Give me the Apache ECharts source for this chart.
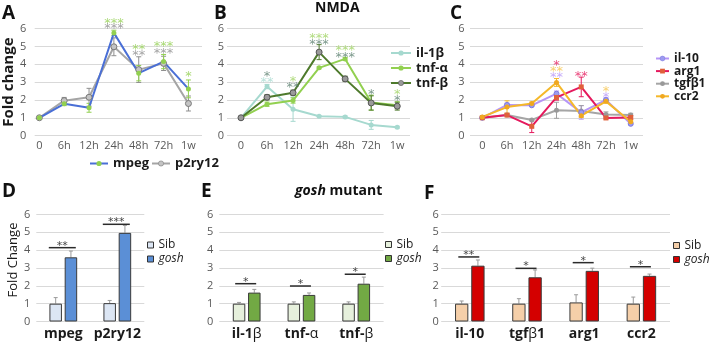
<!DOCTYPE html>
<html>
<head>
<meta charset="utf-8">
<script src="https://cdn.jsdelivr.net/npm/echarts@6/dist/echarts.min.js"></script>
<style>
  html, body { margin: 0; padding: 0; background: #fff; }
  #chart { width: 711px; height: 346px; }
</style>
</head>
<body>
<div id="chart"></div>
<script>
// ---------- time-course data (NMDA) ----------
const timePoints = ['0', '6h', '12h', '24h', '48h', '72h', '1w'];

const mpeg      = [1.0, 1.78, 1.56, 5.76, 3.5, 4.15, 2.62];
const mpegErr   = [0.03, 0.1, 0.25, 0.15, 0.43, 0.4, 0.5];
const p2ry12    = [1.0, 1.96, 2.15, 4.98, 3.7, 4.05, 1.8];
const p2ry12Err = [0.03, 0.18, 0.5, 0.5, 0.72, 0.4, 0.42];

const il1b    = [1.0, 2.75, 1.48, 1.09, 1.05, 0.6, 0.47];
const il1bErr = [0.02, 0.12, 0.68, 0.03, 0.05, 0.25, 0.05];
const tnfa    = [1.0, 1.76, 1.97, 3.8, 4.3, 1.85, 1.7];
const tnfaErr = [0.02, 0.12, 0.15, 0.05, 0.08, 0.42, 0.2];
const tnfb    = [1.0, 2.15, 2.4, 4.68, 3.18, 1.83, 1.65];
const tnfbErr = [0.02, 0.15, 0.15, 0.42, 0.15, 0.4, 0.22];

const il10     = [1.0, 1.72, 1.7, 2.35, 1.3, 2.0, 0.66];
const il10Err  = [0.03, 0.1, 0.05, 0.15, 0.38, 0.12, 0.05];
const arg1     = [1.0, 1.15, 0.52, 2.14, 2.73, 0.99, 1.02];
const arg1Err  = [0.03, 0.05, 0.35, 0.15, 0.55, 0.05, 0.1];
const tgfb1    = [1.0, 1.15, 0.88, 1.42, 1.38, 1.18, 1.15];
const tgfb1Err = [0.03, 0.05, 0.05, 0.45, 0.3, 0.15, 0.1];
const ccr2     = [1.05, 1.6, 1.8, 2.98, 1.12, 1.92, 0.78];
const ccr2Err  = [0.03, 0.35, 0.08, 0.22, 0.1, 0.1, 0.05];

// significance marks: [time index, height on the fold-change scale, label]
const mpegStars   = [[3, 6.53, '***'], [4, 5.04, '**'], [5, 5.2, '***'], [6, 3.52, '*']];
const p2ry12Stars = [[3, 6.2, '***'], [4, 4.7, '**'], [5, 4.83, '***']];
const il1bStars   = [[1, 3.21, '**']];
const tnfaStars   = [[2, 3.26, '*'], [3, 5.65, '***'], [4, 4.98, '***'], [6, 2.51, '*']];
const tnfbStars   = [[1, 3.54, '*'], [2, 2.89, '**'], [3, 5.3, '***'], [4, 4.61, '***'], [5, 2.51, '*'], [6, 2.18, '*']];
const arg1Stars   = [[3, 4.14, '*'], [4, 3.54, '**']];
const ccr2Stars   = [[3, 3.83, '**'], [5, 2.7, '*']];
const il10Stars   = [[3, 3.49, '**'], [5, 2.37, '*']];

// ---------- gosh mutant vs siblings ----------
const microgliaGenes = ['mpeg', 'p2ry12'];
const sibMicroglia      = [1.0, 1.03];
const sibMicrogliaErr   = [0.34, 0.15];
const goshMicroglia     = [3.6, 4.97];
const goshMicrogliaErr  = [0.35, 0.42];
const sigMicroglia      = [[0, 4.14, '**'], [1, 5.45, '***']];

const proInflGenes = ['il-1β', 'tnf-α', 'tnf-β'];
const sibProInfl     = [1.0, 1.0, 1.0];
const sibProInflErr  = [0.07, 0.1, 0.1];
const goshProInfl    = [1.62, 1.49, 2.12];
const goshProInflErr = [0.18, 0.11, 0.37];
const sigProInfl     = [[0, 2.12, '*'], [1, 1.99, '*'], [2, 2.65, '*']];

const antiInflGenes = ['il-10', 'tgfβ1', 'arg1', 'ccr2'];
const sibAntiInfl     = [1.0, 1.0, 1.07, 1.0];
const sibAntiInflErr  = [0.15, 0.28, 0.43, 0.37];
const goshAntiInfl    = [3.13, 2.48, 2.84, 2.56];
const goshAntiInflErr = [0.32, 0.41, 0.15, 0.1];
const sigAntiInfl     = [[0, 3.62, '**'], [1, 2.98, '*'], [2, 3.3, '*'], [3, 3.07, '*']];

// ---------- styling helpers ----------
const FONT = 'Open Sans';
const STAR_FONT = 'DejaVu Sans';
const GRID_LINE = '#d9d9d9';
const TICK = '#595959';

const greekRich = { g: { fontWeight: 'normal', fontSize: 14, fontFamily: FONT, color: '#1a1a1a' } };
const greekFmt = v => v.replace(/([α-ω])/g, '{g|$1}');

function valueY(idx, margin, extra) {
  return Object.assign({
    type: 'value', gridIndex: idx, min: 0, max: 6, interval: 1,
    axisLine: { show: false }, axisTick: { show: false },
    axisLabel: { fontFamily: FONT, fontSize: 11, color: TICK, margin: margin },
    splitLine: { lineStyle: { color: GRID_LINE, width: 1 } }
  }, extra || {});
}

function timeX(idx, min, max) {
  return {
    type: 'value', gridIndex: idx, min: min, max: max,
    axisLine: { show: false }, axisTick: { show: false }, splitLine: { show: false },
    axisLabel: {
      customValues: timePoints.map((_, i) => i),
      formatter: v => timePoints[Math.round(v)],
      fontFamily: FONT, fontSize: 11, color: TICK, margin: 5
    }
  };
}

function geneX(idx, genes) {
  return {
    type: 'category', gridIndex: idx, data: genes,
    axisLine: { show: false }, axisTick: { show: false },
    axisLabel: {
      interval: 0, hideOverlap: false,
      fontFamily: FONT, fontSize: 14, fontWeight: 'bold', color: '#1a1a1a', margin: 6,
      formatter: greekFmt, rich: greekRich
    }
  };
}

function lineSeries(name, axis, values, lineColor, itemStyle, symbol, size) {
  return {
    name: name, type: 'line', xAxisIndex: axis, yAxisIndex: axis,
    data: values.map((v, i) => [i, v]),
    symbol: symbol || 'circle', symbolSize: size || 5,
    lineStyle: { color: lineColor, width: 2 },
    itemStyle: itemStyle, z: 3
  };
}

// vertical error bars; dx shifts them onto a bar within its category
function errorSeries(axis, values, errs, color, dx, upOnly, cap) {
  return {
    type: 'custom', xAxisIndex: axis, yAxisIndex: axis, silent: true, z: upOnly ? 1 : 2,
    data: values.map((v, i) => [i, v, errs[i]]),
    renderItem: (params, api) => {
      const i = api.value(0), v = api.value(1), e = api.value(2);
      const top = api.coord([i, v + e]);
      const bot = api.coord([i, upOnly ? v : v - e]);
      const x = top[0] + dx;
      const st = { stroke: color, lineWidth: 1 };
      const kids = [
        { type: 'line', shape: { x1: x, y1: top[1], x2: x, y2: bot[1] }, style: st },
        { type: 'line', shape: { x1: x - cap, y1: top[1], x2: x + cap, y2: top[1] }, style: st }
      ];
      if (!upOnly) kids.push({ type: 'line', shape: { x1: x - cap, y1: bot[1], x2: x + cap, y2: bot[1] }, style: st });
      return { type: 'group', children: kids };
    }
  };
}

function starSeries(axis, marks, color) {
  return {
    type: 'scatter', xAxisIndex: axis, yAxisIndex: axis, silent: true, clip: false,
    symbolSize: 0, z: 5,
    data: marks,
    label: {
      show: true, position: 'inside', formatter: p => p.value[2],
      fontFamily: STAR_FONT, fontSize: 13, color: color, offset: [0, 4]
    }
  };
}

function sigSeries(axis, marks, half) {
  return {
    type: 'custom', xAxisIndex: axis, yAxisIndex: axis, silent: true, z: 4,
    data: marks,
    renderItem: (params, api) => {
      const p = api.coord([api.value(0), api.value(1)]);
      return {
        type: 'group', children: [
          { type: 'line', shape: { x1: p[0] - half - 1, y1: p[1], x2: p[0] + half - 1, y2: p[1] },
            style: { stroke: '#2b2b2b', lineWidth: 1.5 } },
          { type: 'text', x: p[0] - 1, y: p[1] - 2,
            style: { text: marks[params.dataIndex][2], fill: '#444', font: '11px "' + STAR_FONT + '"',
                     align: 'center', verticalAlign: 'middle' } }
        ]
      };
    }
  };
}

function barSeries(name, axis, values, fill, width, gap) {
  return {
    name: name, type: 'bar', xAxisIndex: axis, yAxisIndex: axis,
    data: values, barWidth: width, barGap: gap,
    itemStyle: { color: fill, borderColor: '#3a3a3a', borderWidth: 1 }, z: 2
  };
}

function barLegend(left, top, names) {
  return {
    orient: 'vertical', left: left, top: top, data: names,
    icon: 'rect', itemWidth: 6, itemHeight: 6, itemGap: 2,
    itemStyle: { borderColor: '#333', borderWidth: 1 },
    formatter: n => n.startsWith('Sib') ? 'Sib' : '{i|gosh}',
    textStyle: { fontFamily: FONT, fontSize: 12, color: '#222', lineHeight: 12,
                 rich: { i: { fontStyle: 'italic', fontFamily: FONT, fontSize: 12, color: '#222' } } },
    padding: 0
  };
}

const letter = (t, left, top) => ({
  text: t, left: left, top: top, padding: 0,
  textStyle: { fontFamily: FONT, fontSize: 19, fontWeight: 'bold', color: '#111' }
});

// bar geometry per bottom panel
const bwD = 12.5, bwE = 12.5, bwF = 13.3, gapPct = 0.22;
const offD = (bwD * (1 + gapPct)) / 2, offE = (bwE * (1 + gapPct)) / 2, offF = (bwF * (1 + gapPct)) / 2;

const option = {
  animation: false,
  backgroundColor: '#fff',
  title: [
    letter('A', 2, 4), letter('B', 214, 4), letter('C', 450, 4),
    letter('D', 2, 182), letter('E', 201, 182), letter('F', 424, 184),
    { text: 'NMDA', left: 315, top: 1, padding: 0,
      textStyle: { fontFamily: FONT, fontSize: 14, fontWeight: 'bold', color: '#111' } },
    { text: '{i|gosh} mutant', left: 295, top: 184, padding: 0,
      textStyle: { fontFamily: FONT, fontSize: 14, fontWeight: 'bold', color: '#111',
                   rich: { i: { fontFamily: FONT, fontSize: 14, fontWeight: 'bold', fontStyle: 'italic', color: '#111' } } } }
  ],
  grid: [
    { left: 33, top: 28.6, width: 169, height: 107 },
    { left: 227, top: 28.6, width: 183, height: 107 },
    { left: 470, top: 28.6, width: 173, height: 107 },
    { left: 36.3, top: 214.5, width: 108, height: 107 },
    { left: 219.3, top: 214.5, width: 164.3, height: 107 },
    { left: 441.2, top: 214.5, width: 228.8, height: 107 }
  ],
  xAxis: [
    timeX(0, -0.187, 6.546),
    timeX(1, -0.537, 6.49),
    timeX(2, -0.497, 6.497),
    geneX(3, microgliaGenes),
    geneX(4, proInflGenes),
    geneX(5, antiInflGenes)
  ],
  yAxis: [
    valueY(0, 8.5, { name: 'Fold change', nameLocation: 'middle', nameRotate: 90, nameGap: 18,
      nameTextStyle: { fontFamily: FONT, fontSize: 15, fontWeight: 'bold', color: '#1a1a1a' } }),
    valueY(1, 3),
    valueY(2, 5.5),
    valueY(3, 6, { name: 'Fold Change', nameLocation: 'middle', nameRotate: 90, nameGap: 14,
      nameTextStyle: { fontFamily: FONT, fontSize: 13, color: '#1a1a1a', padding: [0, 0, 0, 16] } }),
    valueY(4, 6),
    valueY(5, 2.5)
  ],
  legend: [
    { left: 89, top: 157, data: ['mpeg', 'p2ry12'], itemWidth: 18, itemHeight: 6.5, itemGap: 2, padding: 0,
      itemStyle: { borderWidth: 0.6 },
      textStyle: { fontFamily: FONT, fontSize: 13, fontWeight: 'bold', color: '#1a1a1a' } },
    { orient: 'vertical', left: 390, top: 46.5, data: ['il-1β', 'tnf-α', 'tnf-β'],
      itemWidth: 20, itemHeight: 6.5, itemGap: 2, padding: 0,
      itemStyle: { borderWidth: 0.6 },
      textStyle: { fontFamily: FONT, fontSize: 13, fontWeight: 'bold', color: '#1a1a1a', lineHeight: 13 } },
    { orient: 'vertical', left: 655, top: 52.5, data: ['il-10', 'arg1', 'tgfβ1', 'ccr2'],
      itemWidth: 13, itemHeight: 6, itemGap: 0.6, padding: 0,
      itemStyle: { borderWidth: 0.6 },
      textStyle: { fontFamily: FONT, fontSize: 12, fontWeight: 'bold', color: '#1a1a1a', lineHeight: 11 } },
    barLegend(147, 239, ['SibD', 'goshD']),
    barLegend(385, 238.5, ['SibE', 'goshE']),
    barLegend(673, 239.5, ['SibF', 'goshF'])
  ],
  series: [
    // A
    errorSeries(0, p2ry12, p2ry12Err, '#8f8f8f', 0, false, 2.5),
    errorSeries(0, mpeg, mpegErr, '#92d050', 0, false, 2.5),
    lineSeries('p2ry12', 0, p2ry12, '#a5a5a5', { color: '#c4c4c4', borderColor: '#7a7a7a', borderWidth: 1 }, 'circle', 6),
    lineSeries('mpeg', 0, mpeg, '#4a6fd6', { color: '#92d050' }, 'circle', 5),
    starSeries(0, mpegStars, '#92d050'),
    starSeries(0, p2ry12Stars, '#8c8c8c'),
    // B
    errorSeries(1, il1b, il1bErr, '#a6d9cf', 0, false, 2.5),
    errorSeries(1, tnfa, tnfaErr, '#92d050', 0, false, 2.5),
    errorSeries(1, tnfb, tnfbErr, '#4e7a2c', 0, false, 2.5),
    lineSeries('il-1β', 1, il1b, '#a6d9cf', { color: '#a6d9cf' }, 'circle', 5),
    lineSeries('tnf-α', 1, tnfa, '#92d050', { color: '#92d050' }, 'circle', 5),
    lineSeries('tnf-β', 1, tnfb, '#4e7a2c', { color: '#9a9a9a', borderColor: '#555', borderWidth: 1 }, 'circle', 6),
    starSeries(1, il1bStars, '#a6d9cf'),
    starSeries(1, tnfaStars, '#9ed35f'),
    starSeries(1, tnfbStars, '#5b7f6f'),
    // C
    errorSeries(2, il10, il10Err, '#b695f7', 0, false, 2.5),
    errorSeries(2, arg1, arg1Err, '#e5195d', 0, false, 2.5),
    errorSeries(2, tgfb1, tgfb1Err, '#a0a0a0', 0, false, 2.5),
    errorSeries(2, ccr2, ccr2Err, '#f5b82a', 0, false, 2.5),
    lineSeries('tgfβ1', 2, tgfb1, '#a5a5a5', { color: '#999' }, 'circle', 5),
    lineSeries('il-10', 2, il10, '#b695f7', { color: '#9d9bf0', borderColor: '#7e7ae0', borderWidth: 1 }, 'circle', 5),
    lineSeries('arg1', 2, arg1, '#e5195d', { color: '#e0603a' }, 'rect', 5),
    lineSeries('ccr2', 2, ccr2, '#f5b82a', { color: '#f0a820' }, 'circle', 5),
    starSeries(2, arg1Stars, '#e5195d'),
    starSeries(2, ccr2Stars, '#f5c34a'),
    starSeries(2, il10Stars, '#b695f7'),
    // D
    barSeries('SibD', 3, sibMicroglia, '#dce6f4', bwD, '22%'),
    barSeries('goshD', 3, goshMicroglia, '#5b8fd6', bwD, '22%'),
    errorSeries(3, sibMicroglia, sibMicrogliaErr, '#9a9a9a', -offD, true, 2),
    errorSeries(3, goshMicroglia, goshMicrogliaErr, '#9a9a9a', offD, true, 2),
    sigSeries(3, sigMicroglia, 13.5),
    // E
    barSeries('SibE', 4, sibProInfl, '#e6f0dc', bwE, '22%'),
    barSeries('goshE', 4, goshProInfl, '#72a944', bwE, '22%'),
    errorSeries(4, sibProInfl, sibProInflErr, '#9a9a9a', -offE, true, 2),
    errorSeries(4, goshProInfl, goshProInflErr, '#9a9a9a', offE, true, 2),
    sigSeries(4, sigProInfl, 10.5),
    // F
    barSeries('SibF', 5, sibAntiInfl, '#f5cfa9', bwF, '22%'),
    barSeries('goshF', 5, goshAntiInfl, '#d40000', bwF, '22%'),
    errorSeries(5, sibAntiInfl, sibAntiInflErr, '#9a9a9a', -offF, true, 2),
    errorSeries(5, goshAntiInfl, goshAntiInflErr, '#9a9a9a', offF, true, 2),
    sigSeries(5, sigAntiInfl, 10.5)
  ]
};

const chart = echarts.init(document.getElementById('chart'), null, { renderer: 'canvas' });
chart.setOption(option);
</script>
</body>
</html>
